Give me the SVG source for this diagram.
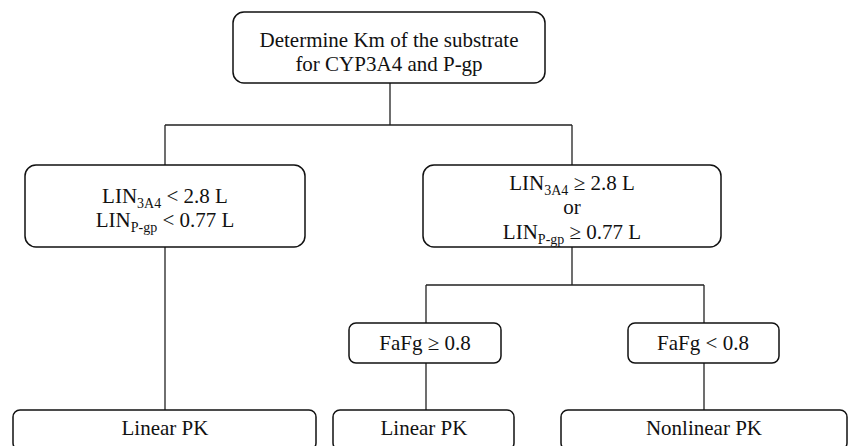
<svg xmlns="http://www.w3.org/2000/svg" width="848" height="446" viewBox="0 0 848 446">
<style>
.box{fill:#fff;stroke:#111;stroke-width:1.5}
.ln{fill:none;stroke:#222;stroke-width:1.3}
text{font-family:"Liberation Serif","Times New Roman","DejaVu Serif","Noto Serif",serif;font-size:21px;fill:#111;text-anchor:middle}
.sub{font-size:14px}
</style>
<rect width="848" height="446" fill="#fff"/>
<g id="connectors">
<path class="ln" d="M390,83 V125 M165,125 H572 M165,125 V165 M572,125 V165"/>
<path class="ln" d="M165,247 V410"/>
<path class="ln" d="M572,247 V285 M426,285 H704 M426,285 V323 M704,285 V323"/>
<path class="ln" d="M426,363 V410 M704,363 V410"/>
</g>
<g id="n-top">
<rect class="box" x="233" y="12" width="312" height="71" rx="11"/>
<text x="389" y="47">Determine Km of the substrate</text>
<text x="389" y="71">for CYP3A4 and P-gp</text>
</g>
<g id="n-left">
<rect class="box" x="25" y="165" width="280" height="82" rx="11"/>
<text x="165" y="203">LIN<tspan class="sub" dy="5">3A4</tspan><tspan dy="-5"> &lt; 2.8 L</tspan></text>
<text x="165" y="227">LIN<tspan class="sub" dy="5">P-gp</tspan><tspan dy="-5"> &lt; 0.77 L</tspan></text>
</g>
<g id="n-right">
<rect class="box" x="423" y="165" width="298" height="82" rx="11"/>
<text x="572" y="190">LIN<tspan class="sub" dy="5">3A4</tspan><tspan dy="-5"> ≥ 2.8 L</tspan></text>
<text x="572" y="214">or</text>
<text x="572" y="239">LIN<tspan class="sub" dy="5">P-gp</tspan><tspan dy="-5"> ≥ 0.77 L</tspan></text>
</g>
<g id="n-fafg-hi">
<rect class="box" x="349" y="323" width="152" height="40" rx="7"/>
<text x="425" y="350">FaFg ≥ 0.8</text>
</g>
<g id="n-fafg-lo">
<rect class="box" x="628" y="323" width="151" height="40" rx="7"/>
<text x="703" y="350">FaFg &lt; 0.8</text>
</g>
<g id="n-linear1">
<rect class="box" x="13" y="410" width="303" height="40" rx="7"/>
<text x="165" y="435">Linear PK</text>
</g>
<g id="n-linear2">
<rect class="box" x="333" y="410" width="181" height="40" rx="7"/>
<text x="424" y="435">Linear PK</text>
</g>
<g id="n-nonlinear">
<rect class="box" x="561" y="410" width="286" height="40" rx="7"/>
<text x="704" y="435">Nonlinear PK</text>
</g>
</svg>
